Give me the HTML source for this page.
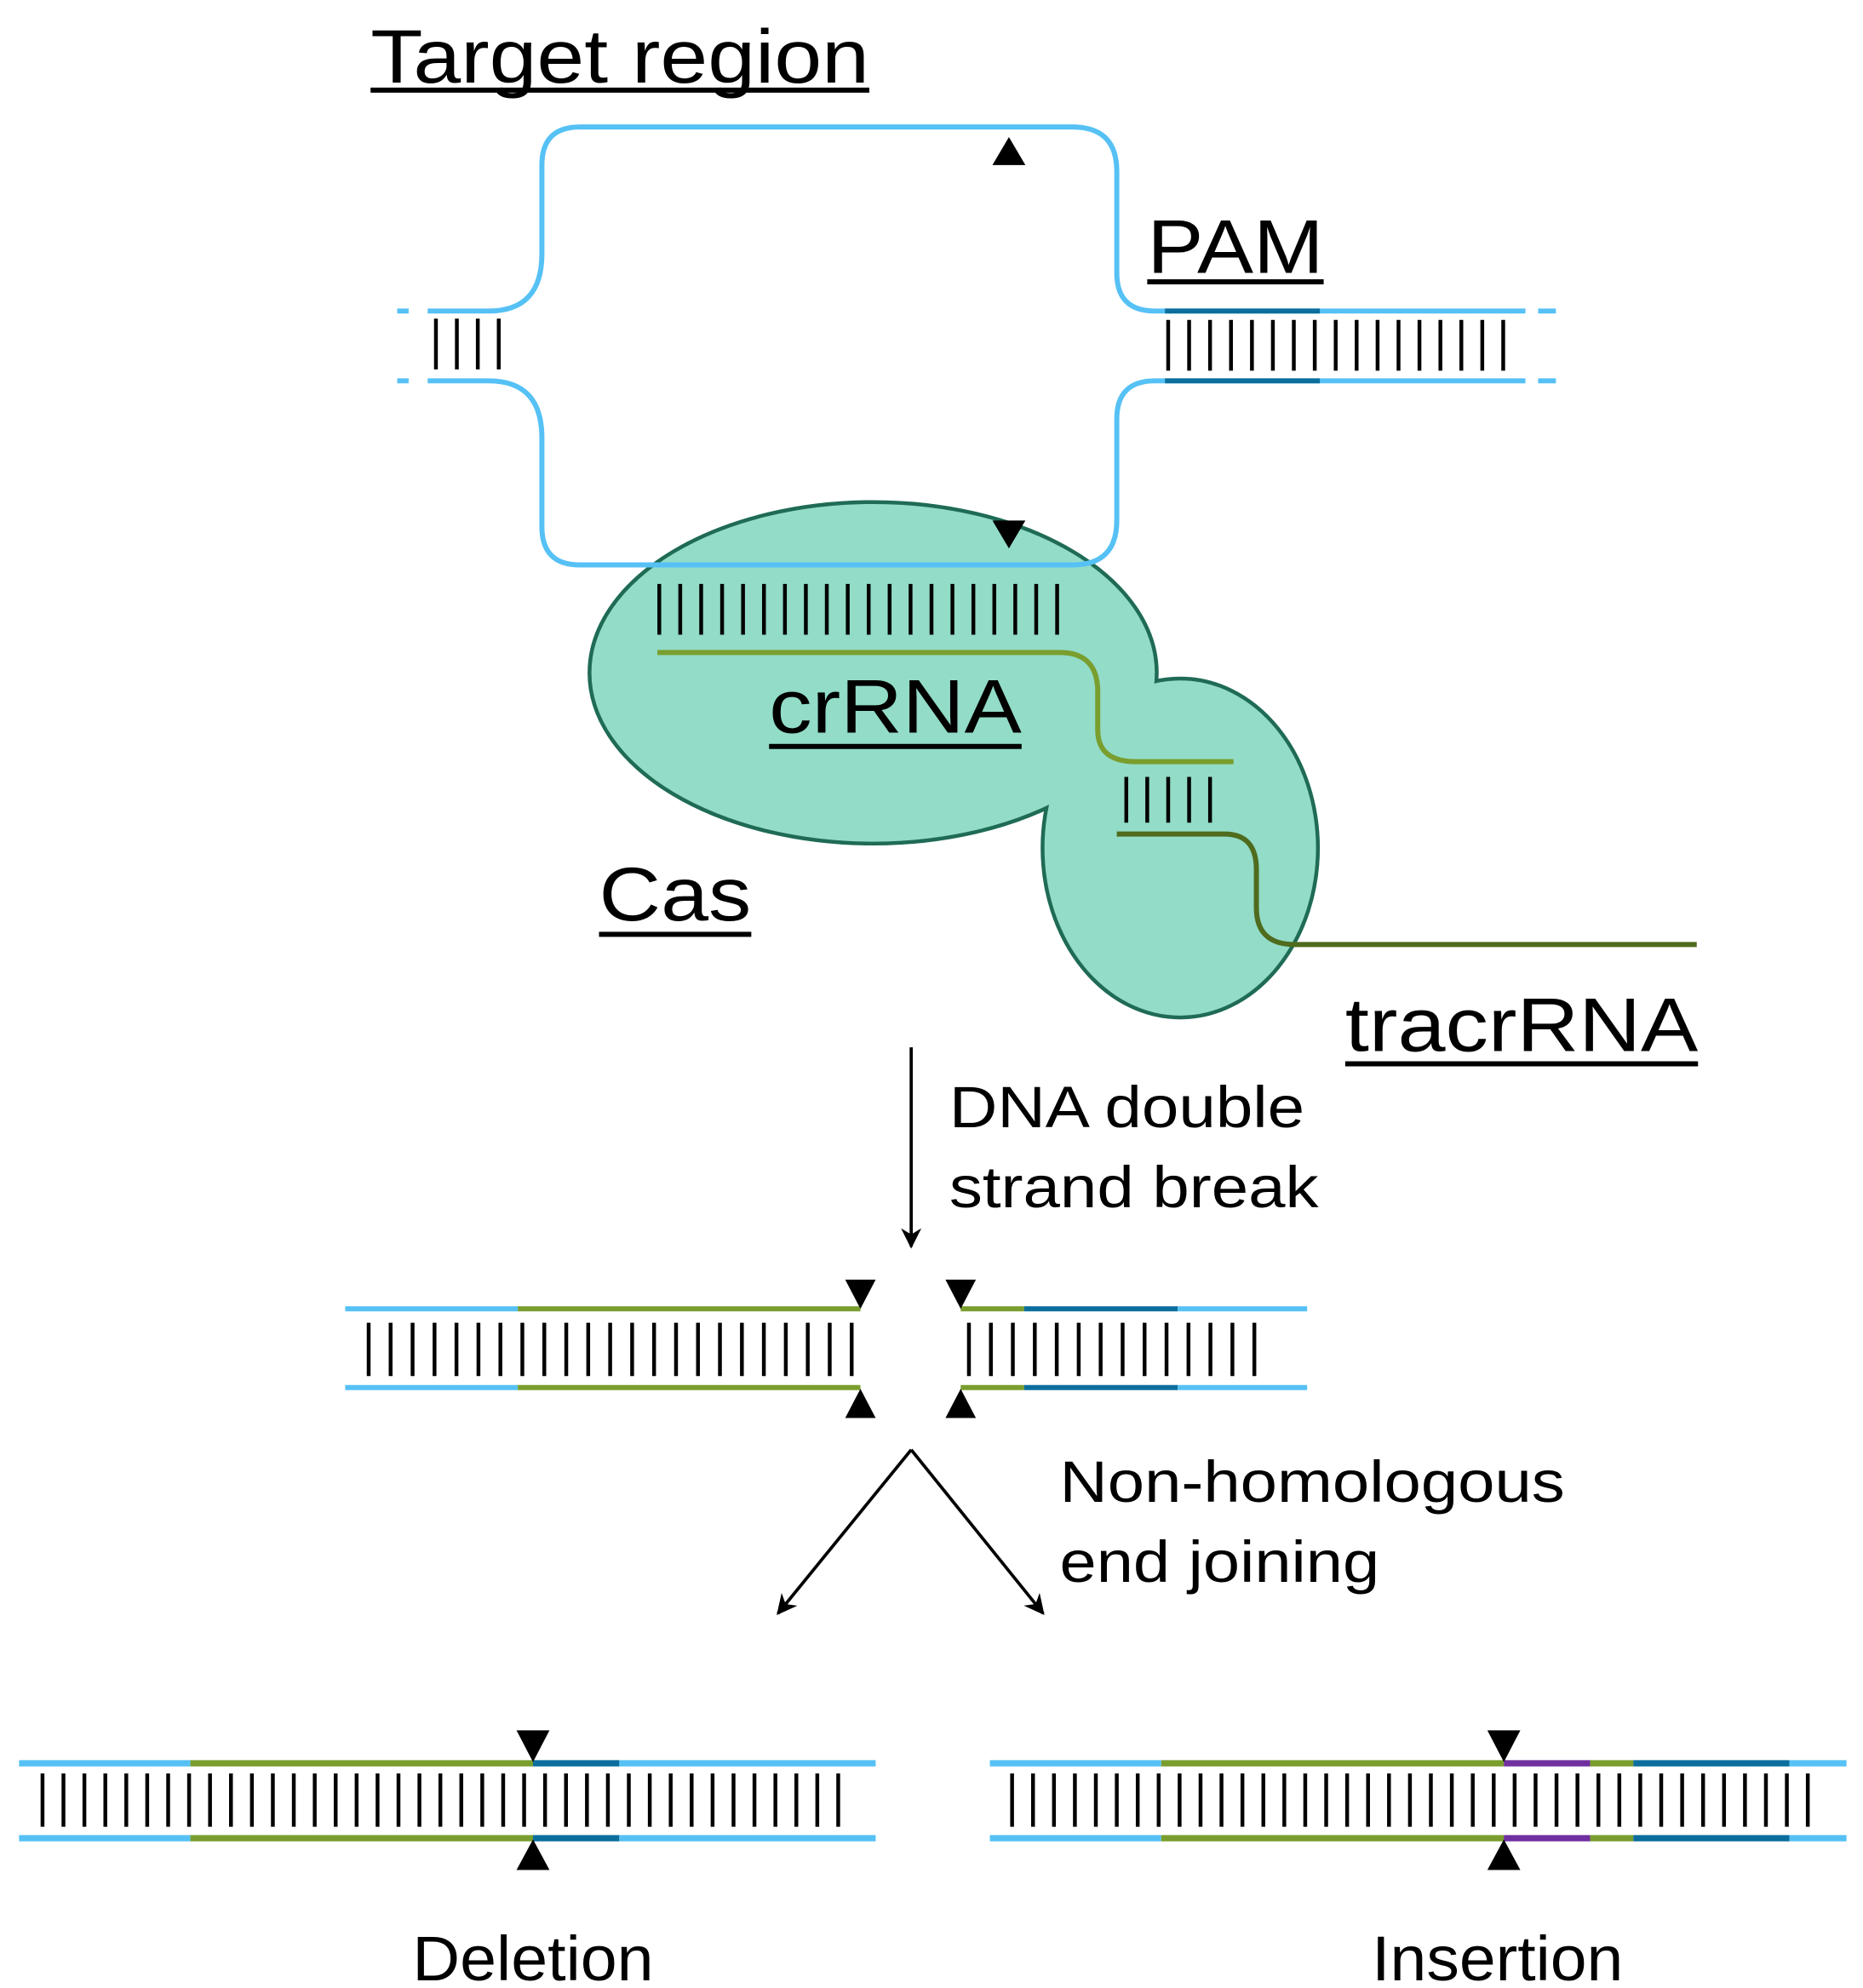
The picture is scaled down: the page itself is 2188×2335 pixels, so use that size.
<!DOCTYPE html>
<html><head><meta charset="utf-8"><style>
html,body{margin:0;padding:0;background:#fff}
svg{display:block}
text{font-family:"Liberation Sans",Arial,sans-serif;fill:#000}
</style></head><body>
<svg width="2188" height="2335" viewBox="0 0 1468 1566" preserveAspectRatio="none" xmlns="http://www.w3.org/2000/svg">
<defs>
<marker id="ah" viewBox="0 0 10 10" refX="9" refY="5" markerWidth="22" markerHeight="16" orient="auto-start-reverse" markerUnits="userSpaceOnUse">
<path d="M0,0 L10,5 L0,10 L3,5 z" fill="#000"/></marker>
</defs>
<rect width="1468" height="1566" fill="#fff"/>

<!-- Cas protein -->
<g stroke="#1f6b55" stroke-width="6" fill="#92dcc8">
<ellipse cx="688" cy="530" rx="222" ry="133"/>
<ellipse cx="930" cy="668" rx="107" ry="132"/>
</g>
<g fill="#92dcc8">
<ellipse cx="688" cy="530" rx="222" ry="133"/>
<ellipse cx="930" cy="668" rx="107" ry="132"/>
</g>

<!-- top DNA loops -->
<g fill="none" stroke="#56c1f5" stroke-width="4">
<path d="M337,245 L385,245 Q427,245 427,200 L427,130 Q427,100 457,100 L845,100 Q880,100 880,135 L880,215 Q880,245 910,245 L1202,245"/>
<path d="M337,300 L385,300 Q427,300 427,345 L427,415 Q427,445 457,445 L845,445 Q880,445 880,410 L880,330 Q880,300 910,300 L1202,300"/>
<path d="M313,245 L322,245 M313,300 L322,300 M1212,245 L1226,245 M1212,300 L1226,300"/>
</g>
<g stroke="#0b6e9c" stroke-width="4"><path d="M918,245 L1040,245 M918,300 L1040,300"/></g>
<!-- rungs -->
<g stroke="#000" stroke-width="40" fill="none">
<line x1="342" y1="271" x2="400" y2="271" stroke-dasharray="3 13.5"/>
<line x1="919" y1="272" x2="1190" y2="272" stroke-dasharray="3 13.5"/>
<line x1="518" y1="480" x2="840" y2="480" stroke-dasharray="3 13.5"/>
<line x1="886" y1="630" x2="960" y2="630" stroke-dasharray="3 13.5" stroke-width="36"/>
</g>
<!-- triangles -->
<path d="M782,130 L808,130 L795,108 Z M782,410 L808,410 L795,432 Z" fill="#000"/>

<!-- RNAs -->
<path d="M518,514 L835,514 Q865,514 865,545 L865,575 Q865,600 895,600 L972,600" fill="none" stroke="#7a9e2e" stroke-width="4"/>
<path d="M880,657 L965,657 Q990,657 990,685 L990,715 Q990,744 1020,744 L1337,744" fill="none" stroke="#4f6b1d" stroke-width="4"/>

<!-- labels -->
<text x="292" y="65" font-size="60" textLength="393" lengthAdjust="spacingAndGlyphs">Target region</text>
<rect x="292" y="69" width="393" height="4"/>
<text x="904" y="215" font-size="60" textLength="139" lengthAdjust="spacingAndGlyphs">PAM</text>
<rect x="904" y="220" width="139" height="4"/>
<text x="606" y="577" font-size="60" textLength="199" lengthAdjust="spacingAndGlyphs">crRNA</text>
<rect x="606" y="586" width="199" height="4"/>
<text x="472" y="725" font-size="60" textLength="120" lengthAdjust="spacingAndGlyphs">Cas</text>
<rect x="472" y="734" width="120" height="4"/>
<text x="1060" y="828" font-size="60" textLength="278" lengthAdjust="spacingAndGlyphs">tracrRNA</text>
<rect x="1060" y="836" width="278" height="4"/>

<!-- arrow 1 -->
<line x1="718" y1="825" x2="718" y2="982" stroke="#000" stroke-width="2.5" marker-end="url(#ah)"/>
<text x="748" y="888" font-size="46" textLength="280" lengthAdjust="spacingAndGlyphs">DNA double</text>
<text x="748" y="951" font-size="46" textLength="291" lengthAdjust="spacingAndGlyphs">strand break</text>

<!-- middle broken DNA -->
<g stroke-width="4">
<line x1="272" y1="1031" x2="408" y2="1031" stroke="#56c1f5"/>
<line x1="408" y1="1031" x2="678" y2="1031" stroke="#7a9e2e"/>
<line x1="272" y1="1093" x2="408" y2="1093" stroke="#56c1f5"/>
<line x1="408" y1="1093" x2="678" y2="1093" stroke="#7a9e2e"/>
<line x1="757" y1="1031" x2="807" y2="1031" stroke="#7a9e2e"/>
<line x1="807" y1="1031" x2="928" y2="1031" stroke="#0b6e9c"/>
<line x1="928" y1="1031" x2="1030" y2="1031" stroke="#56c1f5"/>
<line x1="757" y1="1093" x2="807" y2="1093" stroke="#7a9e2e"/>
<line x1="807" y1="1093" x2="928" y2="1093" stroke="#0b6e9c"/>
<line x1="928" y1="1093" x2="1030" y2="1093" stroke="#56c1f5"/>
</g>
<g stroke="#000" stroke-width="42">
<line x1="289" y1="1063" x2="675" y2="1063" stroke-dasharray="3 14.3"/>
<line x1="762" y1="1063" x2="1000" y2="1063" stroke-dasharray="3 14.3"/>
</g>
<path d="M666,1008 L690,1008 L678,1031 Z M745,1008 L769,1008 L757,1031 Z M666,1117 L690,1117 L678,1094 Z M745,1117 L769,1117 L757,1094 Z" fill="#000"/>

<!-- V arrows -->
<g stroke="#000" stroke-width="2.5">
<line x1="718" y1="1142" x2="613" y2="1271" marker-end="url(#ah)"/>
<line x1="718" y1="1142" x2="822" y2="1271" marker-end="url(#ah)"/>
</g>
<text x="835" y="1183" font-size="46" textLength="398" lengthAdjust="spacingAndGlyphs">Non-homologous</text>
<text x="835" y="1246" font-size="46" textLength="252" lengthAdjust="spacingAndGlyphs">end joining</text>

<!-- bottom -->
<g stroke-width="5">
<line x1="15" y1="1389" x2="150" y2="1389" stroke="#56c1f5"/>
<line x1="150" y1="1389" x2="420" y2="1389" stroke="#7a9e2e"/>
<line x1="420" y1="1389" x2="488" y2="1389" stroke="#0b6e9c"/>
<line x1="488" y1="1389" x2="690" y2="1389" stroke="#56c1f5"/>
<line x1="15" y1="1448" x2="150" y2="1448" stroke="#56c1f5"/>
<line x1="150" y1="1448" x2="420" y2="1448" stroke="#7a9e2e"/>
<line x1="420" y1="1448" x2="488" y2="1448" stroke="#0b6e9c"/>
<line x1="488" y1="1448" x2="690" y2="1448" stroke="#56c1f5"/>
<line x1="780" y1="1389" x2="915" y2="1389" stroke="#56c1f5"/>
<line x1="915" y1="1389" x2="1185" y2="1389" stroke="#7a9e2e"/>
<line x1="1185" y1="1389" x2="1253" y2="1389" stroke="#7030a0"/>
<line x1="1253" y1="1389" x2="1287" y2="1389" stroke="#7a9e2e"/>
<line x1="1287" y1="1389" x2="1410" y2="1389" stroke="#0b6e9c"/>
<line x1="1410" y1="1389" x2="1455" y2="1389" stroke="#56c1f5"/>
<line x1="780" y1="1448" x2="915" y2="1448" stroke="#56c1f5"/>
<line x1="915" y1="1448" x2="1185" y2="1448" stroke="#7a9e2e"/>
<line x1="1185" y1="1448" x2="1253" y2="1448" stroke="#7030a0"/>
<line x1="1253" y1="1448" x2="1287" y2="1448" stroke="#7a9e2e"/>
<line x1="1287" y1="1448" x2="1410" y2="1448" stroke="#0b6e9c"/>
<line x1="1410" y1="1448" x2="1455" y2="1448" stroke="#56c1f5"/>
</g>
<g stroke="#000" stroke-width="42">
<line x1="32" y1="1418" x2="665" y2="1418" stroke-dasharray="3 13.5"/>
<line x1="796" y1="1418" x2="1428" y2="1418" stroke-dasharray="3 13.5"/>
</g>
<path d="M407,1363 L433,1363 L420,1388 Z M407,1473 L433,1473 L420,1449 Z M1172,1363 L1198,1363 L1185,1388 Z M1172,1473 L1198,1473 L1185,1449 Z" fill="#000"/>

<text x="420" y="1560" font-size="50" text-anchor="middle" textLength="190" lengthAdjust="spacingAndGlyphs">Deletion</text>
<text x="1180" y="1560" font-size="50" text-anchor="middle" textLength="198" lengthAdjust="spacingAndGlyphs">Insertion</text>
</svg>
</body></html>
